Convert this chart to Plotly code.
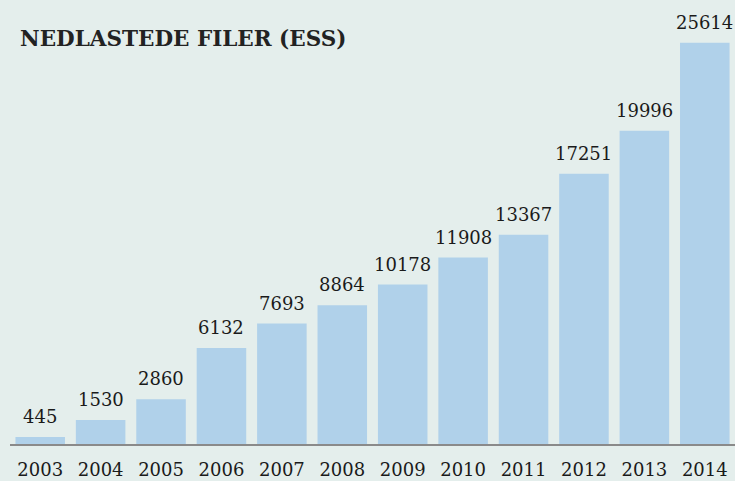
import plotly.graph_objects as go

years = ["2003", "2004", "2005", "2006", "2007", "2008", "2009", "2010", "2011", "2012", "2013", "2014"]
downloads = [445, 1530, 2860, 6132, 7693, 8864, 10178, 11908, 13367, 17251, 19996, 25614]
title = "NEDLASTEDE FILER (ESS)"

FONT = "DejaVu Serif"
BG = "#e4eeec"

fig = go.Figure(
    go.Bar(
        x=years,
        y=downloads,
        marker=dict(color="#b0d1ea", line=dict(width=0)),
        hoverinfo="x+y",
    )
)

# value labels placed via the category axis (category serial number) and y data scale
annotations = [
    dict(
        x=i,
        y=v,
        xref="x",
        yref="y",
        text=str(v),
        showarrow=False,
        xanchor="center",
        yanchor="bottom",
        yshift=8,
        font=dict(family=FONT, size=18, color="#1a1a1a"),
    )
    for i, v in enumerate(downloads)
]
annotations.append(
    dict(
        text="<b>" + title + "</b>",
        xref="paper",
        yref="paper",
        x=0.011,
        y=0.914,
        xanchor="left",
        yanchor="middle",
        showarrow=False,
        font=dict(family=FONT, size=21.5, color="#222222"),
    )
)

fig.update_layout(
    width=735,
    height=481,
    margin=dict(l=10, r=0, t=0, b=37),
    paper_bgcolor=BG,
    plot_bgcolor=BG,
    bargap=0.18,
    showlegend=False,
    xaxis=dict(
        type="category",
        range=[-0.5, len(years) - 0.5],
        showgrid=False,
        showline=True,
        linecolor="#8a8a8a",
        linewidth=1.5,
        ticks="",
        tickfont=dict(family=FONT, size=18, color="#1a1a1a"),
        ticklabelstandoff=9,
    ),
    yaxis=dict(
        range=[0, 28350],
        showgrid=False,
        zeroline=False,
        showticklabels=False,
        visible=False,
    ),
    annotations=annotations,
)

fig.write_html(
    "out.html",
    config={"displayModeBar": False},
    post_script="document.body.style.margin='0';document.body.style.overflow='hidden';",
)
